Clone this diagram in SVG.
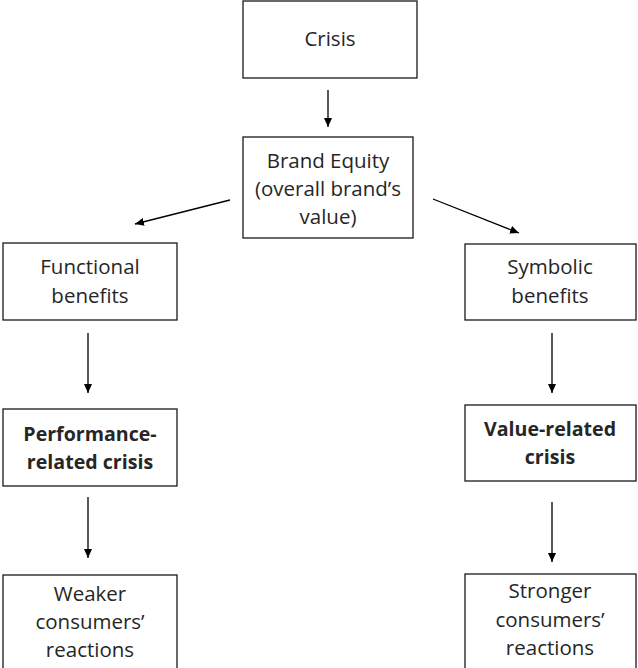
<svg xmlns="http://www.w3.org/2000/svg" width="638" height="668" viewBox="0 0 638 668">
<style>
.box{fill:#fff;stroke:#1a1a1a;stroke-width:1.3}
.t{font-family:"Open Sans","Liberation Sans",Arial,sans-serif;font-size:20.5px;fill:#262626;text-anchor:middle}
.b{font-weight:bold;font-size:19.6px}
.c{stroke:#000;stroke-width:1.3;fill:none;marker-end:url(#ah)}
</style>
<defs>
<marker id="ah" markerUnits="userSpaceOnUse" markerWidth="10" markerHeight="10" refX="9" refY="4" orient="auto">
<path d="M0,0 L9,4 L0,8 Z" fill="#000"/>
</marker>
</defs>
<rect width="638" height="668" fill="#fff"/>
<g id="crisis"><rect class="box" x="243" y="1" width="174" height="77"/><text class="t" x="330" y="46">Crisis</text></g>
<g id="brand"><rect class="box" x="243" y="137" width="170" height="101"/><text class="t" x="328" y="168">Brand Equity</text><text class="t" x="328" y="196">(overall brand’s</text><text class="t" x="328" y="224">value)</text></g>
<g id="functional"><rect class="box" x="3" y="243" width="174" height="77"/><text class="t" x="90" y="274">Functional</text><text class="t" x="90" y="303">benefits</text></g>
<g id="symbolic"><rect class="box" x="465" y="244" width="171" height="76"/><text class="t" x="550" y="274">Symbolic</text><text class="t" x="550" y="303">benefits</text></g>
<g id="performance"><rect class="box" x="3" y="409" width="174" height="77"/><text class="t b" x="90" y="441">Performance-</text><text class="t b" x="90" y="469">related crisis</text></g>
<g id="valuecrisis"><rect class="box" x="465" y="405" width="171" height="76"/><text class="t b" x="550" y="436">Value-related</text><text class="t b" x="550" y="464">crisis</text></g>
<g id="weaker"><rect class="box" x="3" y="575" width="174" height="100"/><text class="t" x="90" y="601">Weaker</text><text class="t" x="90" y="629">consumers’</text><text class="t" x="90" y="657">reactions</text></g>
<g id="stronger"><rect class="box" x="465" y="574" width="171" height="100"/><text class="t" x="550" y="598">Stronger</text><text class="t" x="550" y="627">consumers’</text><text class="t" x="550" y="655">reactions</text></g>
<g id="connectors">
<line class="c" x1="328" y1="90" x2="328" y2="127"/>
<line class="c" x1="230" y1="200" x2="135" y2="224"/>
<line class="c" x1="433" y1="199" x2="519" y2="233"/>
<line class="c" x1="88" y1="333" x2="88" y2="393"/>
<line class="c" x1="88" y1="497" x2="88" y2="558"/>
<line class="c" x1="552" y1="333" x2="552" y2="393"/>
<line class="c" x1="552" y1="502" x2="552" y2="562"/>
</g>
</svg>
